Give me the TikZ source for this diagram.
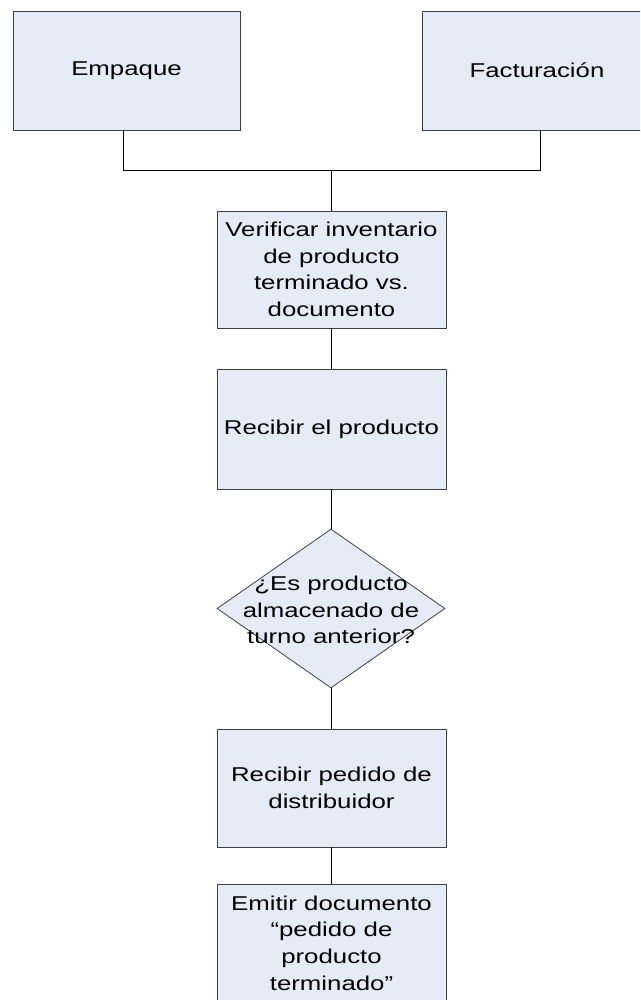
\documentclass[tikz,border=0pt]{standalone}
\usepackage{fontspec}
\setmainfont{Liberation Sans}[FakeStretch=1.29]
\usetikzlibrary{shapes.geometric}
\definecolor{boxfill}{HTML}{E6ECF7}
\definecolor{boxline}{HTML}{404040}
\begin{document}
\begin{tikzpicture}[x=1pt,y=-1pt,
  txt/.style={font=\fontsize{20pt}{26.7pt}\selectfont, align=center, inner sep=0pt},
  procbox/.style={txt, draw=boxline, fill=boxfill, line width=0.8pt, minimum width=229pt, minimum height=118pt},
  decis/.style={diamond, draw=boxline, fill=boxfill, line width=0.8pt, minimum width=228pt, minimum height=159pt, inner sep=0pt},
  conn/.style={draw=black, line width=0.9pt}]
\clip (0,0) rectangle (640,1000);
\fill[white] (0,0) rectangle (640,1000);
\node[procbox, minimum width=227pt, minimum height=119pt] (emp) at (126.5,70.5) {Empaque};
\node[procbox, minimum width=230pt, minimum height=119pt] (fac) at (537,70.5) {Facturación};
\node[procbox, minimum height=117pt] (ver) at (331.5,269.5) {Verificar inventario\\de producto\\terminado vs.\\documento};
\node[procbox, minimum height=120pt] (rec) at (331.5,429) {Recibir el producto};
\node[decis] (dec) at (331,608.5) {};
\node[txt] (dect) at (331,610) {¿Es producto\\almacenado de\\turno anterior?};
\node[procbox] (ped) at (331.5,788) {Recibir pedido de\\distribuidor};
\node[procbox] (emi) at (331.5,943) {Emitir documento\\“pedido de\\producto\\terminado”};
\coordinate (jl) at (123,170);
\coordinate (jr) at (540,170);
\coordinate (jc) at (331,170);
\draw[conn] (emp.south -| jl) -- (jl) -- (jr) -- (fac.south -| jr);
\draw[conn] (jc) -- (ver.north -| jc);
\draw[conn] (ver.south -| jc) -- (rec.north -| jc);
\draw[conn] (rec.south -| jc) -- (dec.north);
\draw[conn] (dec.south) -- (ped.north -| jc);
\draw[conn] (ped.south -| jc) -- (emi.north -| jc);
\end{tikzpicture}
\end{document}
